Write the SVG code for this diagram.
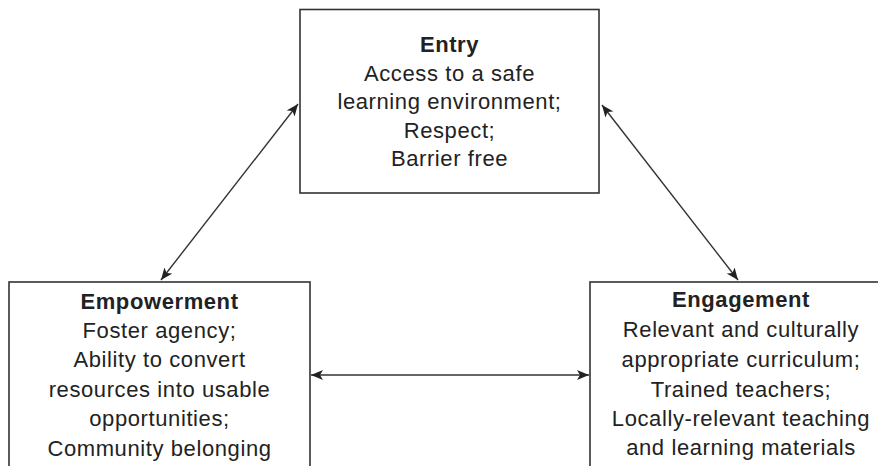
<svg xmlns="http://www.w3.org/2000/svg" width="878" height="466" viewBox="0 0 878 466">
<style>
  .box { fill: #ffffff; stroke: #333333; stroke-width: 1.6; }
  .t { font-family: "Liberation Sans", Arial, sans-serif; font-size: 22px; fill: #222222; text-anchor: middle; letter-spacing: 0.6px; }
  .h { font-weight: bold; }
  .conn { stroke: #333333; stroke-width: 1.4; fill: none; marker-start: url(#ah); marker-end: url(#ah); }
</style>
<defs>
  <marker id="ah" viewBox="0 0 12 10" refX="12" refY="5" markerWidth="12" markerHeight="10" markerUnits="userSpaceOnUse" orient="auto-start-reverse">
    <path d="M0,0 L12,5 L0,10 L3,5 z" fill="#222222"/>
  </marker>
</defs>
<rect width="878" height="466" fill="#ffffff"/>
<g id="entry">
  <rect class="box" x="300" y="9.5" width="299" height="183.5"/>
  <text class="t h" x="449.5" y="52">Entry</text>
  <text class="t" x="449.5" y="80.5">Access to a safe</text>
  <text class="t" x="449.5" y="109">learning environment;</text>
  <text class="t" x="449.5" y="137.7">Respect;</text>
  <text class="t" x="449.5" y="166.4">Barrier free</text>
</g>
<g id="empowerment">
  <rect class="box" x="9" y="282" width="301" height="200"/>
  <text class="t h" x="159.5" y="309.3">Empowerment</text>
  <text class="t" x="159.5" y="338.3">Foster agency;</text>
  <text class="t" x="159.5" y="367.3">Ability to convert</text>
  <text class="t" x="159.5" y="396.7">resources into usable</text>
  <text class="t" x="159.5" y="425.5">opportunities;</text>
  <text class="t" x="159.5" y="455.7">Community belonging</text>
</g>
<g id="engagement">
  <rect class="box" x="590" y="282" width="302" height="200"/>
  <text class="t h" x="741" y="306.7">Engagement</text>
  <text class="t" x="741" y="336.7">Relevant and culturally</text>
  <text class="t" x="741" y="366.7">appropriate curriculum;</text>
  <text class="t" x="741" y="396.7">Trained teachers;</text>
  <text class="t" x="741" y="425.5">Locally-relevant teaching</text>
  <text class="t" x="741" y="455">and learning materials</text>
</g>
<g id="connectors">
  <line class="conn" x1="161" y1="280" x2="298" y2="104"/>
  <line class="conn" x1="602" y1="105" x2="738" y2="280"/>
  <line class="conn" x1="311" y1="375" x2="589" y2="375"/>
</g>
</svg>
